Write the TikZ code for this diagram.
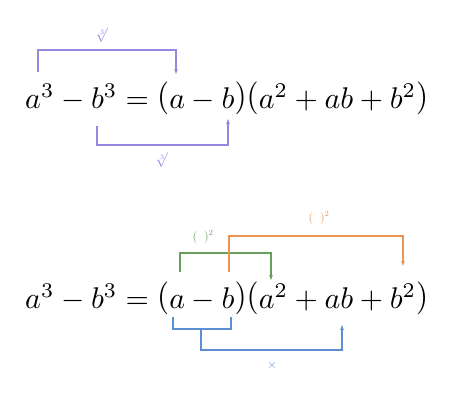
\documentclass[tikz,border=0pt]{standalone}
\usetikzlibrary{arrows.meta}
\definecolor{cpur}{RGB}{146,136,222}
\definecolor{cgrn}{RGB}{100,160,90}
\definecolor{corg}{RGB}{236,148,82}
\definecolor{cblu}{RGB}{92,142,210}
\newcommand\tlp{\mathopen{\raisebox{0.35pt}{\scalebox{1.04}[1.1]{$($}}}}
\newcommand\trp{\mathclose{\raisebox{0.35pt}{\scalebox{1.04}[1.1]{$)$}}}}
\newcommand\myeq{$a^3-b^3=\tlp a-b\trp\tlp a^2+ab+b^2\trp$}
\tikzset{
  eqn/.style={anchor=base west, inner sep=0pt},
  conn/.style={line width=1.1pt},
  tip/.style={-{Latex[length=6pt,width=3.8pt]}},
  lbl/.style={inner sep=0pt, font=\large}
}
\begin{document}
\begin{tikzpicture}[x=1pt,y=-1pt]
\useasboundingbox[fill=white] (0,0) rectangle (450,408);
% equations
\node[eqn] (eq1) at (25,108) {\resizebox{403pt}{!}{\myeq}};
\node[eqn] (eq2) at (25,308) {\resizebox{403pt}{!}{\myeq}};
% top diagram anchors
\coordinate (t1a) at (38,72);
\coordinate (t1b) at (176,75);
\coordinate (t2a) at (97,126);
\coordinate (t2b) at (228,118);
\draw[conn,cpur,tip] (t1a) -- (38,50) -- (176,50) -- (t1b);
\draw[conn,cpur,tip] (t2a) -- (97,145) -- (228,145) -- (t2b);
\node[lbl,text=cpur,font=\Large] (r1) at (102,35) {$\sqrt[3]{}$};
\node[lbl,text=cpur,font=\Large] (r2) at (162,160) {$\sqrt[3]{}$};
% bottom diagram anchors
\coordinate (g1) at (180,272);
\coordinate (g2) at (271,281);
\coordinate (o1) at (229,272);
\coordinate (o2) at (403,267);
\draw[conn,cgrn,tip] (g1) -- (180,253) -- (271,253) -- (g2);
\draw[conn,corg,tip] (o1) -- (229,236) -- (403,236) -- (o2);
\node[lbl,text=cgrn] (sq1) at (203,237) {$(\hspace{7pt})^2$};
\node[lbl,text=corg] (sq2) at (319,218) {$(\hspace{7pt})^2$};
\coordinate (b1) at (173,317);
\coordinate (b2) at (231,317);
\coordinate (bm) at (201,329);
\coordinate (b3) at (342,324);
\draw[conn,cblu] (b1) -- (173,329) -- (231,329) -- (b2);
\draw[conn,cblu,tip] (bm) -- (201,350) -- (342,350) -- (b3);
\node[lbl,text=cblu] (x1) at (272,365) {$\times$};
\end{tikzpicture}
\end{document}
